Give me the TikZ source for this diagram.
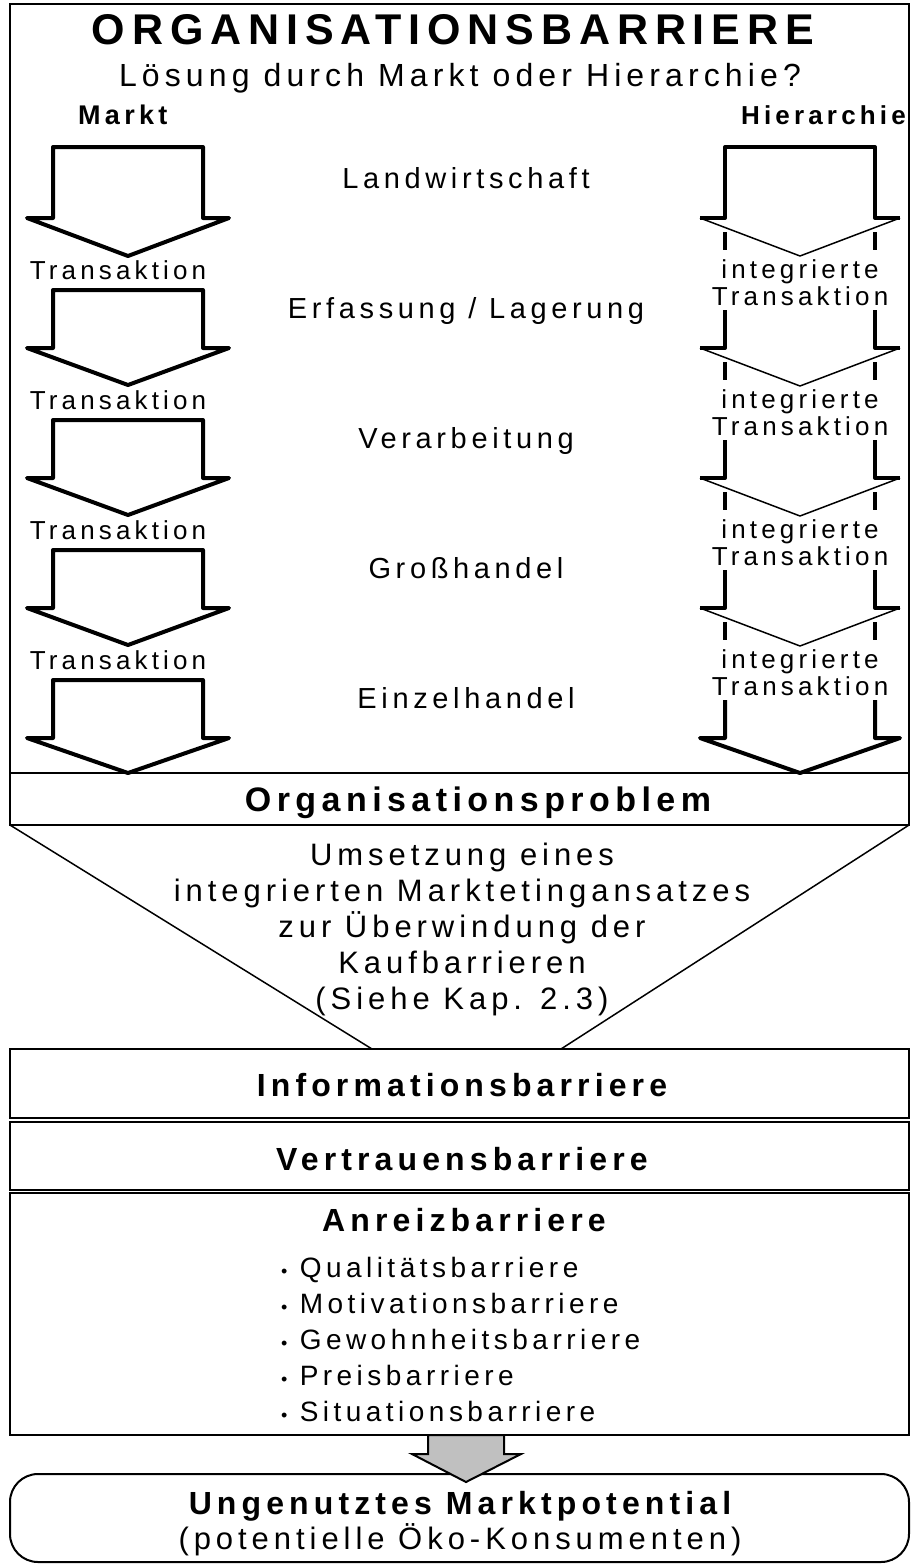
\documentclass[tikz,border=0pt]{standalone}
\usepackage{fontspec}
\setmainfont{Liberation Sans}[LetterSpace=16]
\usetikzlibrary{positioning}
\definecolor{grau}{RGB}{192,192,192}

\tikzset{
  pfeil/.style={line width=4pt, line join=round},
  spitze/.style={line width=1.5pt, line join=round},
  rahmen/.style={line width=2pt},
  etikett/.style={inner sep=0pt, anchor=base, font=\fontsize{29}{36}\selectfont},
  klein/.style={inner sep=0pt, anchor=base, font=\fontsize{26}{27}\selectfont},
  fett/.style={inner sep=0pt, anchor=base, font=\fontsize{32}{36}\selectfont\bfseries},
}

\begin{document}
\begin{tikzpicture}[x=1pt, y=-1pt]
\useasboundingbox (0,0) rectangle (911,1564);

% oberer Kasten
\draw[rahmen] (10,4) rectangle (909,825);
\draw[rahmen] (10,773) -- (909,773);
\node[fett, font=\fontsize{43}{48}\selectfont\bfseries] (titel) at (453,44) {ORGANISATIONSBARRIERE};
\node[etikett, font=\fontsize{32}{36}\selectfont] (frage) at (460,86) {Lösung durch Markt oder Hierarchie?};
\node[fett, anchor=base west, font=\fontsize{27}{30}\selectfont\bfseries] (markt) at (78,124) {Markt};
\node[fett, anchor=base east, font=\fontsize{26}{30}\selectfont\bfseries] (hier) at (906,124) {Hierarchie};

% Markt: einzelne Pfeile
\foreach \t/\s/\p in {147/218/256, 290/348/385, 420/478/515, 550/608/645, 680/738/773}
  \draw[pfeil] (53,\t) -- (203,\t) -- (203,\s) -- (229,\s) -- (128,\p) -- (27,\s) -- (53,\s) -- cycle;
\foreach \s [count=\i] in {218,348,478,608}
  \node[klein] (trans\i) at (118,{\s+61}) {Transaktion};

% Stufen
\foreach \w [count=\i] in {Landwirtschaft, Erfassung / Lagerung, Verarbeitung, Großhandel, Einzelhandel}
  \node[etikett] (stufe\i) at (466,{58+130*\i}) {\w};

% Hierarchie: durchgehender Pfeil
\draw[pfeil] (700,218) -- (725,218) -- (725,147) -- (875,147) -- (875,218) -- (900,218);
\foreach \s in {348,478,608}
  \draw[pfeil] (725,\s-38) -- (725,\s) -- (700,\s) (875,\s-38) -- (875,\s) -- (900,\s);
\foreach \s [count=\i] in {218,348,478,608} {
  \draw[spitze] (700,\s) -- (800,\s+38) -- (900,\s);
  \draw[pfeil] (725,\s+14) -- (725,\s+32) (875,\s+14) -- (875,\s+32);
  \node[klein, anchor=center, align=center] (integ\i) at (800,{\s+65}) {integrierte\\Transaktion};
}
\draw[pfeil] (725,700) -- (725,738) -- (700,738) -- (800,773) -- (900,738) -- (875,738) -- (875,700);

\node[fett, font=\fontsize{34}{36}\selectfont\bfseries] (orgprob) at (478,811) {Organisationsproblem};

% Trichter
\draw[spitze] (10,825) -- (372,1049);
\draw[spitze] (909,825) -- (561,1049);
\node[etikett, anchor=center, align=center, font=\fontsize{31}{36}\selectfont] (umsetzung) at (462,929)
  {Umsetzung eines\\integrierten Marktetingansatzes\\zur Überwindung der\\Kaufbarrieren\\(Siehe Kap. 2.3)};

% Barrieren
\draw[rahmen] (10,1049) rectangle (909,1118);
\draw[rahmen] (10,1122) rectangle (909,1190);
\draw[rahmen] (10,1193) rectangle (909,1435);
\node[fett] (info) at (462,1096) {Informationsbarriere};
\node[fett] (vertrauen) at (462,1170) {Vertrauensbarriere};
\node[fett] (anreiz) at (464,1231) {Anreizbarriere};
\foreach \w [count=\i] in {Qualitätsbarriere, Motivationsbarriere, Gewohnheitsbarriere, Preisbarriere, Situationsbarriere}
  \node[etikett, anchor=base west, font=\fontsize{28}{30}\selectfont] (punkt\i) at (281,{1241+36*\i})
    {{\fontsize{18}{18}\selectfont\textbullet}\ \w};

% Ergebnis
\draw[rahmen, rounded corners=28pt] (10,1474) rectangle (909,1562);
\draw[rahmen, fill=grau, line join=miter] (428,1435) -- (504,1435) -- (504,1454) -- (521,1454) -- (466,1482)
  -- (412,1454) -- (428,1454) -- cycle;
\node[fett] (ungenutzt) at (460,1514) {Ungenutztes Marktpotential};
\node[etikett, font=\fontsize{31}{36}\selectfont] (oeko) at (460,1549) {(potentielle Öko-Konsumenten)};
\end{tikzpicture}
\end{document}
